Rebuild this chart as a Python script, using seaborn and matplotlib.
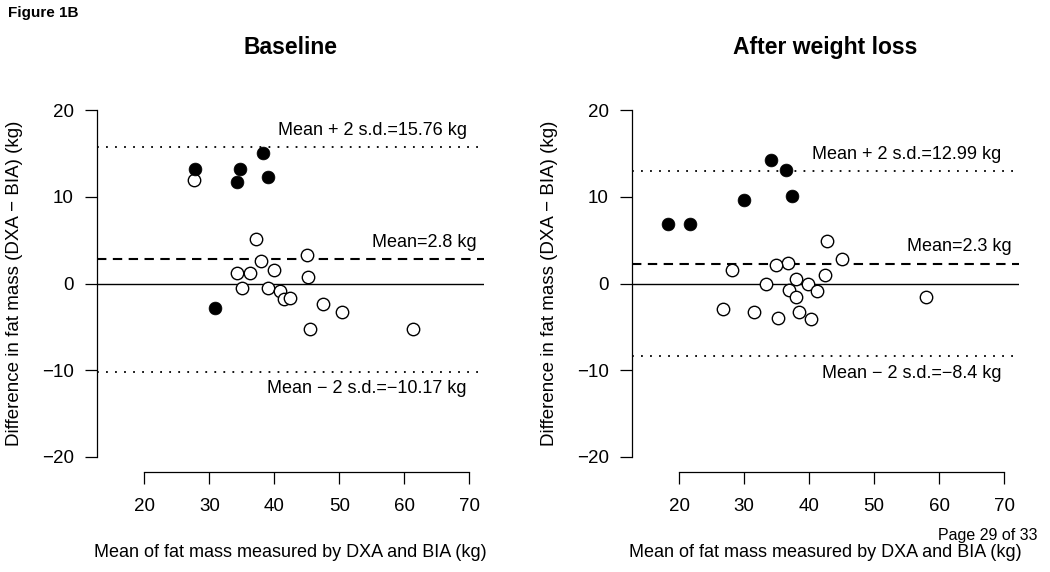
import pandas as pd
import matplotlib
matplotlib.use("Agg")
import matplotlib.pyplot as plt
import seaborn as sns

# Baseline: mean of DXA and BIA (x) and difference DXA - BIA (y)
base_filled_x = [27.7, 34.7, 34.2, 38.2, 39.0, 30.8]
base_filled_y = [13.2, 13.2, 11.7, 15.1, 12.3, -2.8]
base_open_x = [27.6, 37.1, 37.9, 45.0, 34.3, 36.2, 39.9, 45.2, 35.0, 39.0,
               40.9, 41.4, 42.4, 47.5, 50.4, 45.5, 61.3]
base_open_y = [12.0, 5.2, 2.65, 3.3, 1.23, 1.2, 1.6, 0.8, -0.5, -0.5,
               -0.9, -1.8, -1.7, -2.35, -3.3, -5.2, -5.2]
base_mean, base_upper, base_lower = 2.8, 15.76, -10.17

# After weight loss
wl_filled_x = [18.3, 21.7, 30.0, 34.2, 36.4, 37.4]
wl_filled_y = [6.85, 6.9, 9.6, 14.3, 13.1, 10.1]
wl_open_x = [42.7, 45.0, 36.7, 34.9, 28.1, 42.5, 38.0, 33.4, 39.8, 36.9,
             41.2, 38.0, 58.0, 26.8, 31.5, 38.4, 35.2, 40.3]
wl_open_y = [4.9, 2.8, 2.35, 2.1, 1.55, 0.97, 0.5, -0.1, 0.0, -0.7,
             -0.8, -1.5, -1.6, -2.9, -3.3, -3.3, -4.0, -4.1]
wl_mean, wl_upper, wl_lower = 2.3, 12.99, -8.4

x_ticks = [20, 30, 40, 50, 60, 70]
y_ticks = [-20, -10, 0, 10, 20]

sns.set_style("ticks")
plt.rcParams["font.family"] = ["Liberation Sans", "DejaVu Sans"]
plt.rcParams.update({"text.color": "black", "axes.labelcolor": "black",
                     "xtick.color": "black", "ytick.color": "black"})

fig = plt.figure(figsize=(10.5, 5.72), dpi=100)
ax1 = fig.add_axes([0.0924, 0.1753, 0.3689, 0.6578])
ax2 = fig.add_axes([0.6016, 0.1753, 0.3689, 0.6578])


def bland_altman(ax, fx, fy, ox, oy, mean, upper, lower, title):
    filled = pd.DataFrame({"x": fx, "y": fy})
    hollow = pd.DataFrame({"x": ox, "y": oy})
    sns.scatterplot(data=hollow, x="x", y="y", ax=ax, s=80, color="white",
                    edgecolor="black", linewidth=1.0, zorder=3)
    sns.scatterplot(data=filled, x="x", y="y", ax=ax, s=85, color="black",
                    edgecolor="black", linewidth=0.5, zorder=3)

    ax.axhline(0, color="black", lw=1.0, zorder=1)
    ax.axhline(mean, color="black", lw=1.5, linestyle=(0, (4.5, 3.1)), zorder=1)
    ax.axhline(upper, color="black", lw=1.3, linestyle=(0, (1, 4)), zorder=1)
    ax.axhline(lower, color="black", lw=1.3, linestyle=(0, (1, 4)), zorder=1)

    ax.text(69.6, upper + 1.95, f"Mean + 2 s.d.={upper:g} kg", ha="right",
            va="center", fontsize=13)
    ax.text(71.1, mean + 1.95, f"Mean={mean:g} kg", ha="right",
            va="center", fontsize=13)
    ax.text(69.6, lower - 1.95, f"Mean \u2212 2 s.d.=\u2212{abs(lower):g} kg",
            ha="right", va="center", fontsize=13)

    ax.set_xlim(12.7, 72.3)
    ax.set_ylim(-21.7, 21.7)
    ax.set_xticks(x_ticks)
    ax.set_yticks(y_ticks)
    ax.spines["top"].set_visible(False)
    ax.spines["right"].set_visible(False)
    ax.spines["bottom"].set_bounds(20, 70)
    ax.spines["left"].set_bounds(-20, 20)
    for sp in ("bottom", "left"):
        ax.spines[sp].set_linewidth(0.9)
        ax.spines[sp].set_color("black")
    ax.tick_params(axis="both", length=8.6, width=0.9, color="black",
                   labelsize=13.5)
    ax.tick_params(axis="x", pad=10)
    ax.tick_params(axis="y", pad=8)

    ax.set_xlabel("Mean of fat mass measured by DXA and BIA (kg)", fontsize=13)
    ax.set_ylabel("Difference in fat mass (DXA \u2212 BIA) (kg)", fontsize=13.5)
    ax.xaxis.set_label_coords(0.5, -0.214)
    ax.xaxis.label.set_va("center")
    ax.yaxis.set_label_coords(-0.213, 0.5)
    ax.yaxis.label.set_va("center")

    ax.text(0.5, 1.127, title, transform=ax.transAxes, fontsize=16.5,
            fontweight="bold", ha="center", va="center")


bland_altman(ax1, base_filled_x, base_filled_y, base_open_x, base_open_y,
             base_mean, base_upper, base_lower, "Baseline")
bland_altman(ax2, wl_filled_x, wl_filled_y, wl_open_x, wl_open_y,
             wl_mean, wl_upper, wl_lower, "After weight loss")

fig.text(0.008, 0.977, "Figure 1B", fontsize=11, fontweight="bold",
         ha="left", va="center")
fig.text(0.988, 0.064, "Page 29 of 33", fontsize=11.5, ha="right", va="center")

fig.savefig("out.png", dpi=100)
